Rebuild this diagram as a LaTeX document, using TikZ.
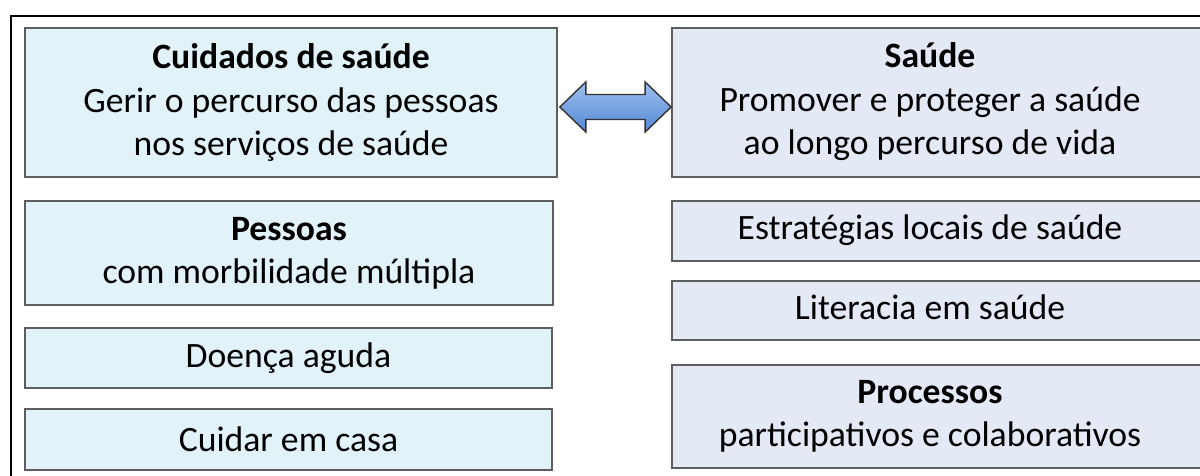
\documentclass[tikz,border=0pt]{standalone}
\usepackage{fontspec}
\setmainfont{Carlito}
\usetikzlibrary{calc}

\definecolor{leftfill}{HTML}{E1F3F8}
\definecolor{rightfill}{HTML}{E3EAF6}
\definecolor{boxline}{HTML}{5E5E5E}
\definecolor{arrowtop}{HTML}{9DC0F0}
\definecolor{arrowbot}{HTML}{5387D2}

% right-hand boxes run past the page edge, so their text gets a right pad
\newcommand{\rcol}[1]{\begin{tabular}{@{}c@{\hspace{0.48cm}}}#1\end{tabular}}

\begin{document}
\begin{tikzpicture}[x=0.02cm, y=-0.02cm,
        lbox/.style={draw=boxline, line width=1pt, fill=leftfill, align=center,
                     font=\fontsize{20.3}{24.6}\selectfont, inner sep=0pt},
        rbox/.style={draw=boxline, line width=1pt, fill=rightfill, align=center,
                     font=\fontsize{20.3}{24.6}\selectfont, inner sep=0pt,
                     minimum width=10.8cm},
        linkarrow/.style={draw=black!80, line width=0.8pt, line join=miter,
                     top color=arrowtop, bottom color=arrowbot}]
        \useasboundingbox (0,0) rectangle (1200,476);
        \clip (0,0) rectangle (1200,476);
        \fill[white] (0,0) rectangle (1200,476);
        \draw[line width=1.1pt] (11,16) rectangle (1240,520);

        \path (291, 102.5) node[lbox, minimum width=10.64cm, minimum height=2.98cm] (cuid)
            {\textbf{Cuidados de saúde}\\Gerir o percurso das pessoas\\nos serviços de saúde};
        \path (289, 253)   node[lbox, minimum width=10.56cm, minimum height=2.08cm] (pess)
            {\textbf{Pessoas}\\com morbilidade múltipla};
        \path (288.5, 358) node[lbox, minimum width=10.54cm, minimum height=1.2cm] (doen)
            {Doença aguda};
        \path (288.5, 439.5) node[lbox, minimum width=10.54cm, minimum height=1.22cm] (casa)
            {Cuidar em casa};

        \path (942, 102.5) node[rbox, minimum height=2.98cm] (saude)
            {\rcol{\textbf{Saúde}\\Promover e proteger a saúde\\ao longo percurso de vida}};
        \path (942, 231)   node[rbox, minimum height=1.2cm] (estr)
            {\rcol{Estratégias locais de saúde}};
        \path (942, 310.5) node[rbox, minimum height=1.18cm] (lit)
            {\rcol{Literacia em saúde}};
        \path (942, 416.5) node[rbox, minimum height=2.06cm] (proc)
            {\rcol{\textbf{Processos}\\participativos e colaborativos}};

        % two-way block arrow between the top boxes
        \coordinate (tipL) at ($(cuid.east)+(2,4.5)$);
        \coordinate (tipR) at ($(saude.west)+(0,4.5)$);
        \draw[linkarrow] (tipL) -- ++(26,-25) -- ++(0,12.5) -- ($(tipR)+(-26,-12.5)$)
            -- ++(0,-12.5) -- (tipR) -- ++(-26,25) -- ++(0,-12.5)
            -- ($(tipL)+(26,12.5)$) -- ++(0,12.5) -- cycle;
    \end{tikzpicture}
\end{document}
